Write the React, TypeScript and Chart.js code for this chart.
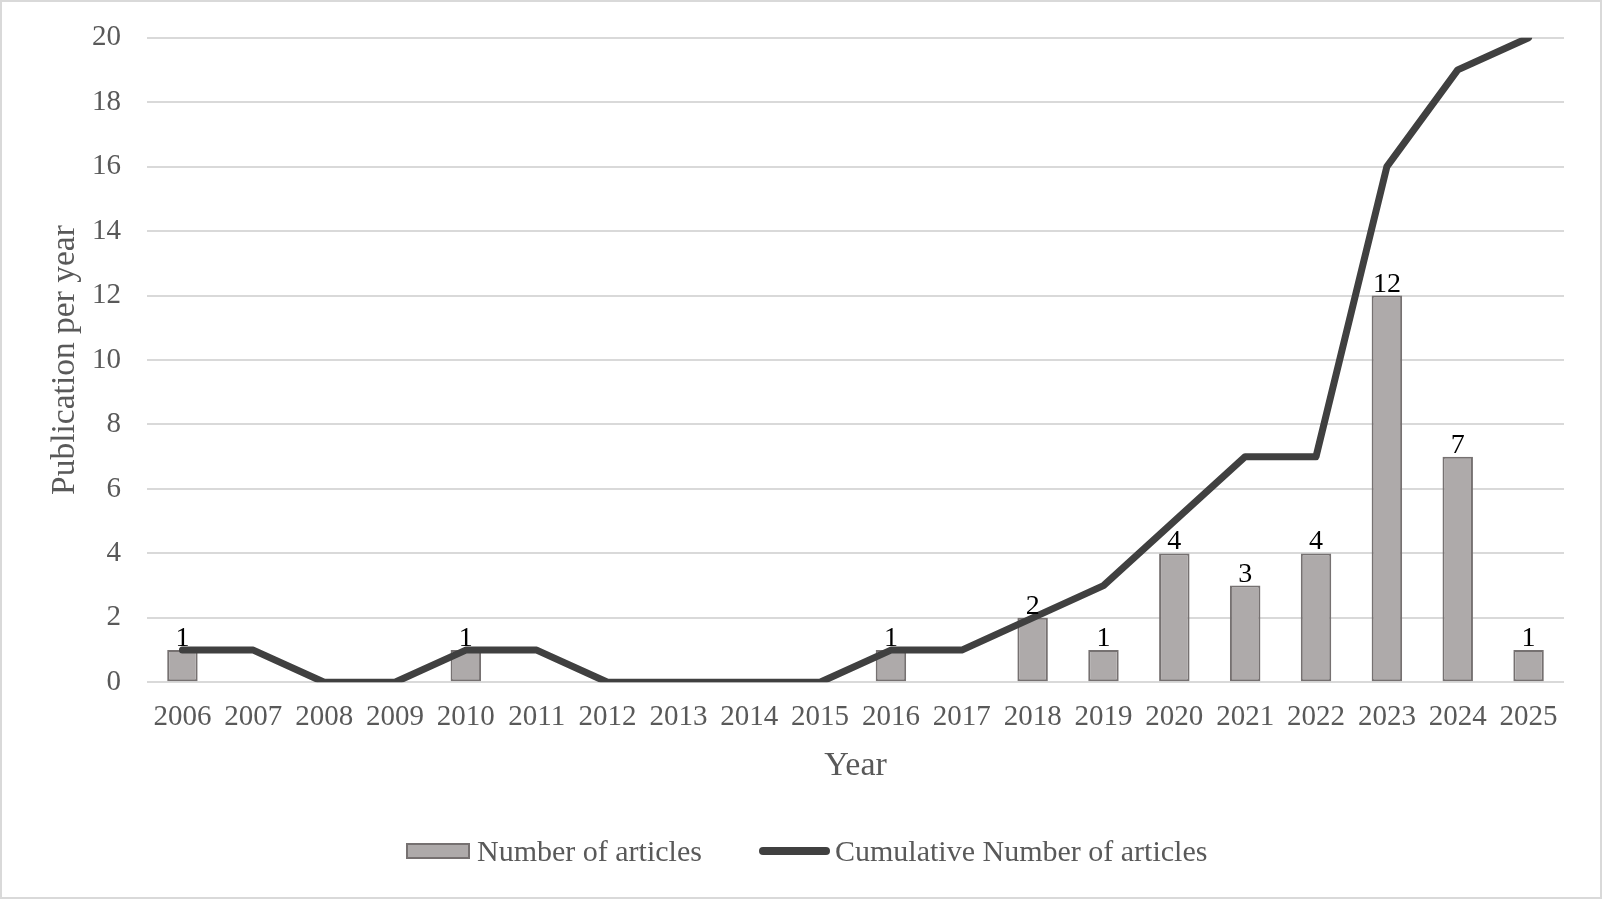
import { useEffect, useRef } from 'react';
import { Chart, registerables } from 'chart.js';

Chart.register(...registerables);

const years = [
  '2006', '2007', '2008', '2009', '2010', '2011', '2012', '2013', '2014', '2015',
  '2016', '2017', '2018', '2019', '2020', '2021', '2022', '2023', '2024', '2025',
];
const articles = [1, 0, 0, 0, 1, 0, 0, 0, 0, 0, 1, 0, 2, 1, 4, 3, 4, 12, 7, 1];
const cumulative = [1, 1, 0, 0, 1, 1, 0, 0, 0, 0, 1, 1, 2, 3, 5, 7, 7, 16, 19, 20];
const yTicks = [0, 2, 4, 6, 8, 10, 12, 14, 16, 18, 20];

const SERIF = "'Liberation Serif', 'Times New Roman', serif";
const BAR_FILL = '#aeaaaa';
const BAR_EDGE = '#767171';
const LINE_COLOR = '#404040';
const TEXT = '#595959';

// value labels above the bars (skip empty years)
const barLabels = {
  id: 'barLabels',
  afterDatasetsDraw(chart: Chart) {
    const meta = chart.getDatasetMeta(1);
    const ctx = chart.ctx;
    ctx.save();
    ctx.font = `28px ${SERIF}`;
    ctx.fillStyle = '#000';
    ctx.textAlign = 'center';
    ctx.textBaseline = 'alphabetic';
    meta.data.forEach((el: any, i: number) => {
      const v = articles[i];
      if (!v) return;
      ctx.fillText(String(v), el.x, el.y - 4);
    });
    ctx.restore();
  },
};

export default function App() {
  const canvasRef = useRef<HTMLCanvasElement>(null);

  useEffect(() => {
    document.body.style.margin = '0';
    if (!canvasRef.current) return;
    Chart.defaults.font.family = SERIF;

    const chart = new Chart(canvasRef.current, {
      type: 'bar',
      data: {
        labels: years,
        datasets: [
          {
            type: 'line',
            label: 'Cumulative Number of articles',
            data: cumulative,
            borderColor: LINE_COLOR,
            backgroundColor: LINE_COLOR,
            borderWidth: 7,
            pointRadius: 0,
            borderCapStyle: 'round',
            borderJoinStyle: 'round',
            tension: 0,
            order: 0,
          },
          {
            type: 'bar',
            label: 'Number of articles',
            data: articles,
            backgroundColor: BAR_FILL,
            borderColor: BAR_EDGE,
            borderWidth: 2,
            borderSkipped: false,
            categoryPercentage: 1,
            barPercentage: 0.43,
            order: 1,
          },
        ],
      },
      options: {
        responsive: false,
        animation: false,
        devicePixelRatio: 1,
        layout: { padding: { left: 0, right: 38, top: 37.7, bottom: 0 } },
        plugins: {
          legend: { display: false },
          tooltip: { enabled: false },
        },
        scales: {
          x: {
            grid: { display: false, drawTicks: false },
            border: { display: false },
            ticks: {
              color: TEXT,
              font: { size: 29 },
              padding: 18,
              maxRotation: 0,
              autoSkip: false,
            },
            title: {
              display: true,
              text: 'Year',
              color: TEXT,
              font: { size: 34 },
              padding: { top: 0, bottom: 112.5 },
            },
            afterFit(scale: any) {
              scale.height = 899 - 682.3;
            },
          },
          y: {
            min: 0,
            max: 20,
            afterBuildTicks(scale: any) {
              scale.ticks = yTicks.map((v) => ({ value: v }));
            },
            grid: { color: '#d9d9d9', lineWidth: 2, drawTicks: false },
            border: { display: false },
            ticks: {
              color: TEXT,
              font: { size: 29 },
              padding: 26,
            },
            title: {
              display: true,
              text: 'Publication per year',
              color: TEXT,
              font: { size: 33.5 },
              padding: { top: 45, bottom: 0 },
            },
            afterFit(scale: any) {
              scale.width = 147;
              scale.paddingTop = 0;
              scale.paddingBottom = 0;
            },
          },
        },
      },
      plugins: [barLabels],
    });

    return () => {
      chart.destroy();
    };
  }, []);

  return (
    <div style={{ position: 'relative', width: 1602, height: 899, background: '#fff' }}>
      <canvas ref={canvasRef} width={1602} height={899} style={{ width: 1602, height: 899, display: 'block' }} />
      {/* legend */}
      <div
        style={{
          position: 'absolute',
          left: 406,
          top: 843,
          width: 64,
          height: 16,
          boxSizing: 'border-box',
          background: BAR_FILL,
          border: `2px solid ${BAR_EDGE}`,
        }}
      />
      <div
        style={{
          position: 'absolute',
          left: 477,
          top: 836,
          fontFamily: SERIF,
          fontSize: 30,
          lineHeight: '30px',
          color: TEXT,
          whiteSpace: 'nowrap',
        }}
      >
        Number of articles
      </div>
      <div
        style={{
          position: 'absolute',
          left: 759,
          top: 847,
          width: 71,
          height: 8,
          borderRadius: 4,
          background: LINE_COLOR,
        }}
      />
      <div
        style={{
          position: 'absolute',
          left: 835,
          top: 836,
          fontFamily: SERIF,
          fontSize: 30,
          lineHeight: '30px',
          color: TEXT,
          whiteSpace: 'nowrap',
        }}
      >
        Cumulative Number of articles
      </div>
      <div
        style={{
          position: 'absolute',
          inset: 0,
          border: '2px solid #d9d9d9',
          pointerEvents: 'none',
        }}
      />
    </div>
  );
}
